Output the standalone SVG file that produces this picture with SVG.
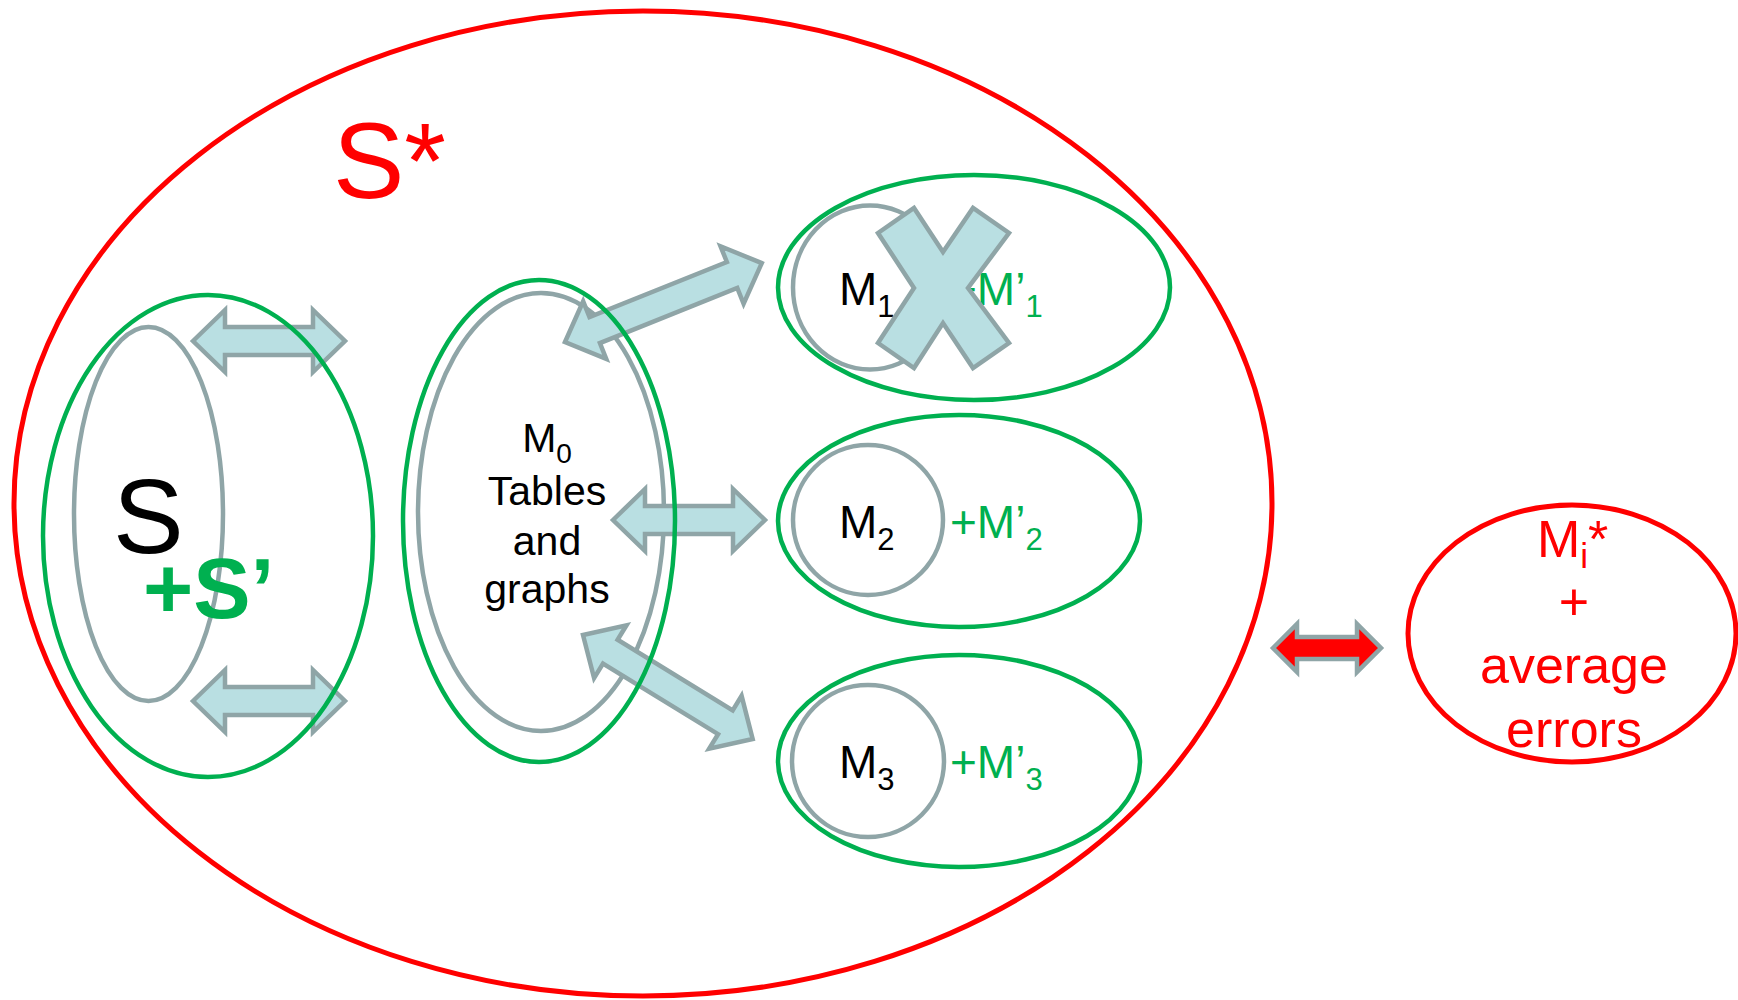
<svg xmlns="http://www.w3.org/2000/svg" width="1738" height="1000" viewBox="0 0 1738 1000">
<style>
.red{fill:none;stroke:#FF0000;stroke-width:5}
.grn{fill:none;stroke:#00B050;stroke-width:4.5}
.gry{fill:none;stroke:#8FA5A7;stroke-width:4.5}
.arr{fill:#B9DFE2;stroke:#8FA5A7;stroke-width:4.5;stroke-linejoin:miter}
.t{font-family:"Liberation Sans",Arial,sans-serif}
.blk{fill:#000}
.gt{fill:#00B050}
.rt{fill:#FF0000}
</style>
<defs>
<path id="a152" d="M0,0 L32,-31 L32,-14 L120,-14 L120,-31 L152,0 L120,31 L120,14 L32,14 L32,31 Z"/>
</defs>
<rect width="1738" height="1000" fill="#fff"/>

<g id="sstar">
<ellipse class="red" cx="643" cy="503.5" rx="629" ry="492.5"/>
<text class="t rt" x="333" y="198" font-size="107">S*</text>
</g>

<g id="gray-shapes">
<ellipse class="gry" cx="148.5" cy="514" rx="74.5" ry="187"/>
<ellipse class="gry" cx="541" cy="512" rx="123" ry="219"/>
</g>

<g id="connectors">
<use href="#a152" class="arr" transform="translate(193,341)"/>
<use href="#a152" class="arr" transform="translate(193,701)"/>
<use href="#a152" class="arr" transform="translate(613,520)"/>
<path class="arr" transform="translate(565,342) rotate(-21.85)" d="M0,0 L32,-31 L32,-14 L180,-14 L180,-31 L212,0 L180,31 L180,14 L32,14 L32,31 Z"/>
<path class="arr" transform="translate(583,635) rotate(31.5)" d="M0,0 L32,-31 L32,-14 L167,-14 L167,-31 L199,0 L167,31 L167,14 L32,14 L32,31 Z"/>
<path transform="translate(1273,648)" d="M0,0 L24,-24 L24,-11 L84,-11 L84,-24 L108,0 L84,24 L84,11 L24,11 L24,24 Z" fill="#FF0000" stroke="#8FA5A7" stroke-width="4.5"/>
</g>

<g id="node-s">
<ellipse class="grn" cx="208" cy="536" rx="165" ry="241"/>
<text class="t blk" x="113" y="553" font-size="106">S</text>
<text class="t gt" x="143" y="618" font-size="86" font-weight="bold">+S’</text>
</g>

<g id="node-m0">
<ellipse class="grn" cx="539" cy="521" rx="136" ry="241"/>
<text class="t blk" x="547" y="452" font-size="41" text-anchor="middle">M<tspan font-size="28" dy="11">0</tspan></text>
<text class="t blk" x="547" y="505" font-size="41" text-anchor="middle">Tables</text>
<text class="t blk" x="547" y="555" font-size="41" text-anchor="middle">and</text>
<text class="t blk" x="547" y="603" font-size="41" text-anchor="middle">graphs</text>
</g>

<g id="node-m1">
<ellipse class="grn" cx="974" cy="287.5" rx="196" ry="112.5"/>
<ellipse class="gry" cx="870" cy="287.5" rx="77" ry="82"/>
<text class="t blk" x="839" y="305" font-size="46">M<tspan font-size="31" dy="12">1</tspan></text>
<text class="t gt" x="950" y="305" font-size="46">+M’<tspan font-size="31" dy="12">1</tspan></text>
<path class="arr" d="M878,233 L914,208 L943,252 L973,208 L1009,233 L968,288 L1009,343 L973,368 L943,323 L914,368 L878,343 L914,288 Z"/>
</g>

<g id="node-m2">
<ellipse class="grn" cx="959" cy="521" rx="181" ry="106"/>
<circle class="gry" cx="868" cy="520" r="75"/>
<text class="t blk" x="839" y="538" font-size="46">M<tspan font-size="31" dy="12">2</tspan></text>
<text class="t gt" x="950" y="538" font-size="46">+M’<tspan font-size="31" dy="12">2</tspan></text>
</g>

<g id="node-m3">
<ellipse class="grn" cx="959" cy="761" rx="181" ry="106"/>
<circle class="gry" cx="868" cy="761" r="76"/>
<text class="t blk" x="839" y="778" font-size="46">M<tspan font-size="31" dy="12">3</tspan></text>
<text class="t gt" x="950" y="778" font-size="46">+M’<tspan font-size="31" dy="12">3</tspan></text>
</g>

<g id="node-mi">
<ellipse class="red" cx="1572" cy="633.5" rx="164" ry="128.5"/>
<text class="t rt" x="1537" y="557" font-size="52">M<tspan font-size="35" dy="11">i</tspan><tspan dy="-11">*</tspan></text>
<text class="t rt" x="1574" y="620" font-size="52" text-anchor="middle">+</text>
<text class="t rt" x="1574" y="683" font-size="52" text-anchor="middle">average</text>
<text class="t rt" x="1574" y="747" font-size="52" text-anchor="middle">errors</text>
</g>
</svg>
